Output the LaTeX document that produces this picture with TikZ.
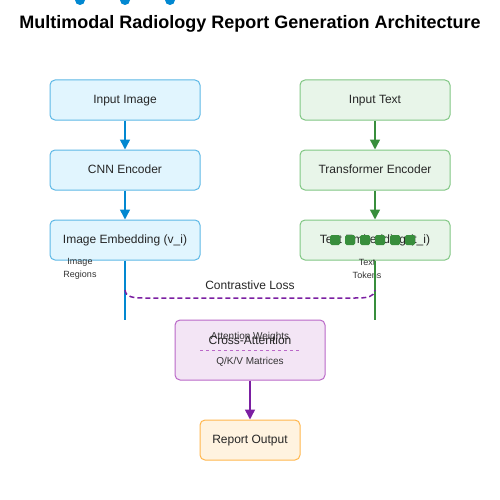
\documentclass[tikz,border=0pt]{standalone}
\usepackage{fontspec}
\setmainfont{Liberation Sans}
\usetikzlibrary{arrows.meta}
\definecolor{bfill}{HTML}{E1F5FE}\definecolor{bdraw}{HTML}{5DB8E6}\definecolor{barr}{HTML}{0288D1}
\definecolor{gfill}{HTML}{E8F5E9}\definecolor{gdraw}{HTML}{81C784}\definecolor{garr}{HTML}{388E3C}
\definecolor{pfill}{HTML}{F3E5F5}\definecolor{pdraw}{HTML}{BA68C8}\definecolor{parr}{HTML}{7B1FA2}
\definecolor{ofill}{HTML}{FFF3E0}\definecolor{odraw}{HTML}{FFB74D}
\tikzset{
  box/.style={rounded corners=5pt, line width=1pt, minimum width=150pt, minimum height=40pt, inner sep=0pt, text height=8pt, text depth=1pt, font=\fontsize{12}{14}\selectfont, text=black!85},
  bluebox/.style={box, fill=bfill, draw=bdraw},
  greenbox/.style={box, fill=gfill, draw=gdraw},
  arr/.style={line width=1.5pt, -{Triangle[length=10pt,width=10pt]}},
  small/.style={font=\fontsize{9}{11}\selectfont, text=black!80, inner sep=0pt},
}
\begin{document}
\begin{tikzpicture}[x=1pt,y=-1pt]
\useasboundingbox (0,0) rectangle (500,500);
\fill[white] (0,0) rectangle (500,500);
% top dots
\foreach \i/\xx in {1/80,2/125,3/170} \fill[barr] (\xx,0) circle (5pt) coordinate (dot\i);
\node[font=\bfseries\fontsize{18}{20}\selectfont] (title) at (250,24) {Multimodal Radiology Report Generation Architecture};
% left column
\node[bluebox] (inimg) at (125,100) {Input Image};
\node[bluebox] (cnn) at (125,170) {CNN Encoder};
\node[bluebox] (imgemb) at (125,240) {Image Embedding (v\_i)};
% right column
\node[greenbox] (intxt) at (375,100) {Input Text};
\node[greenbox] (trans) at (375,170) {Transformer Encoder};
\node[greenbox] (txtemb) at (375,240) {Text Embedding (t\_i)};
\foreach \xx in {335,350,365,380,395,410} \fill[garr, rounded corners=1.5pt] (\xx-5,235) rectangle (\xx+5,245);
% arrows
\draw[arr, barr] (inimg) -- (cnn);
\draw[arr, barr] (cnn) -- (imgemb);
\draw[arr, garr] (intxt) -- (trans);
\draw[arr, garr] (trans) -- (txtemb);
% labels
\node[small, align=center] (imgreg) at (80,269) {Image\\[2pt]Regions};
\node[small, align=center] (txttok) at (367,269) {Text\\[2pt]Tokens};
% streams
\coordinate (lend) at (125,320);
\coordinate (rend) at (375,320);
\draw[barr, line width=1.5pt] (imgemb.south) -- (lend);
\draw[garr, line width=1.5pt] (txtemb.south) -- (rend);
\coordinate (la) at (125,290);
\coordinate (ra) at (375,290);
\draw[parr, line width=1.5pt, dash pattern=on 5pt off 3pt] (la) .. controls (126,297) and (132,298) .. (145,298) -- (355,298) .. controls (368,298) and (374,297) .. (ra);
\node[font=\fontsize{12}{14}\selectfont, text=black!85, text height=8pt, text depth=1pt, inner sep=0pt] (closs) at (250,286) {Contrastive Loss};
% cross attention
\node[box, fill=pfill, draw=pdraw, minimum height=60pt] (xatt) at (250,350) {};
\node[small, font=\fontsize{10}{12}\selectfont, text height=7pt, text depth=1pt] (attw) at (250,336) {Attention Weights};
\node[font=\fontsize{12}{14}\selectfont, text=black!85, text height=8pt, text depth=1pt, inner sep=0pt] (xattl) at (250,341) {Cross-Attention};
\draw[pdraw, line width=1pt, dash pattern=on 3pt off 3pt] (200,350) -- (300,350);
\node[small, font=\fontsize{10}{12}\selectfont, text height=7pt, text depth=1pt] (qkv) at (250,361) {Q/K/V Matrices};
% report
\node[box, fill=ofill, draw=odraw, minimum width=100pt] (rep) at (250,440) {Report Output};
\draw[arr, parr] (xatt) -- (rep);
\end{tikzpicture}
\end{document}
